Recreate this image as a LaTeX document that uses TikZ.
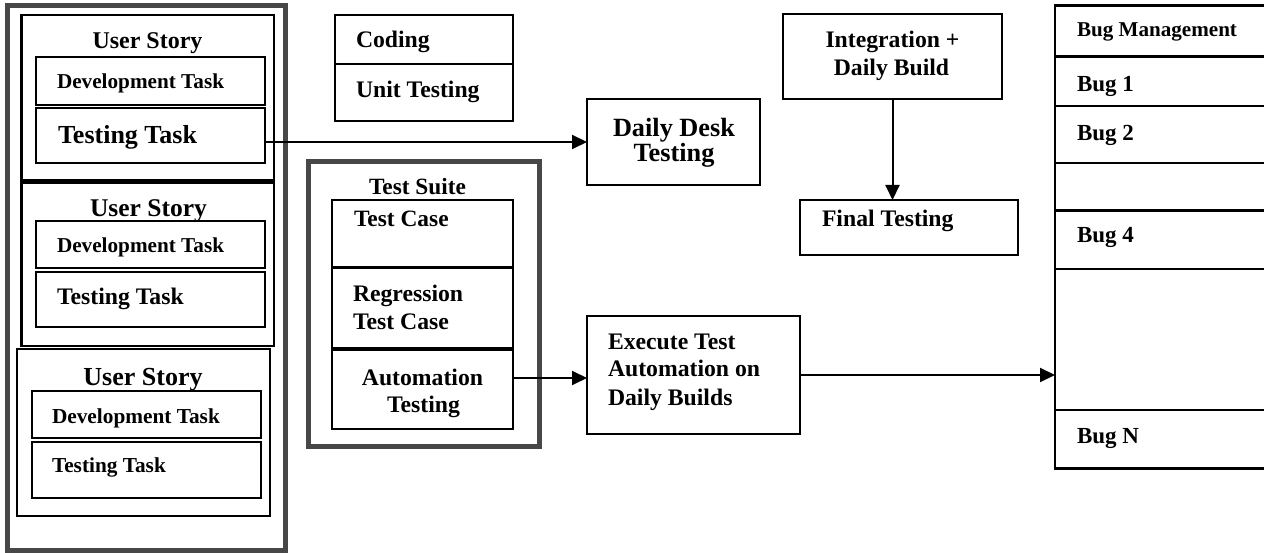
\documentclass[tikz,border=0pt]{standalone}
\usepackage{fontspec}
\setmainfont{Liberation Serif}
\usetikzlibrary{arrows.meta}

\tikzset{
  box/.style={draw=black, line width=2.2pt, rectangle, inner sep=0pt, outer sep=0pt, anchor=north west},
  frame/.style={draw=black!72, line width=5pt, rectangle, inner sep=0pt, outer sep=0pt, anchor=north west},
  arr/.style={line width=2pt, -{Triangle[length=15pt,width=14pt]}},
  t/.style={inner sep=0pt, outer sep=0pt, font=\bfseries\fontsize{#1}{#1}\selectfont},
  t/.default=23.7,
}

% \bx[style]{name}{x1}{y1}{x2}{y2}: box with top-left corner (x1,y1)
\newcommand\bx[6][box]{%
  \node[#1, minimum width={#5pt-#3pt}, minimum height={#6pt-#4pt}] (#2) at (#3,#4) {};}

\begin{document}
\begin{tikzpicture}[x=1pt, y=-1pt]
\useasboundingbox (0,0) rectangle (1264,553);
\clip (0,0) rectangle (1264,553);

% ---- user stories ----
\bx[frame]{stories}{7.5}{6}{285.5}{550.5}
\bx{us1}{21.5}{15}{274}{180.5}
\bx{dev1}{36}{57}{265}{105}
\bx{tt1}{36}{108}{265}{163}
\bx{us2}{21.5}{182.5}{274}{346}
\bx{dev2}{36}{221}{265}{268}
\bx{tt2}{36}{272}{265}{327}
\bx{us3}{17}{349}{270}{516}
\bx{dev3}{32}{391}{261}{438}
\bx{tt3}{32}{442}{261}{498}

\node[t=24, anchor=base] (us1t) at (147.5,49) {User Story};
\node[t=21.2, anchor=base west] (dev1t) at (57,89) {Development Task};
\node[t=26, anchor=base west] (tt1t) at (58,144) {Testing Task};
\node[t=25.5, anchor=base] (us2t) at (148.5,217) {User Story};
\node[t=21.2, anchor=base west] (dev2t) at (57,253) {Development Task};
\node[t, anchor=base west] (tt2t) at (57,305) {Testing Task};
\node[t=26, anchor=base] (us3t) at (143,385) {User Story};
\node[t=21.3, anchor=base west] (dev3t) at (52,423) {Development Task};
\node[t=21.3, anchor=base west] (tt3t) at (52,472) {Testing Task};

% ---- coding ----
\bx{coding}{335}{15}{513}{64}
\bx{unit}{335}{64}{513}{121}
\node[t, anchor=base west] (codingt) at (356,48) {Coding};
\node[t, anchor=base west] (unitt) at (356,98) {Unit Testing};

% ---- test suite ----
\bx[frame]{suite}{308.5}{161.5}{539.5}{446}
\bx{tcase}{332}{200}{513}{267}
\bx{regr}{332}{268}{513}{348}
\bx{auto}{332}{350}{513}{429}
\node[t=23.3, anchor=base] (suitet) at (417.5,195) {Test Suite};
\node[t=23.4, anchor=base west] (tcaset) at (354,227) {Test Case};
\node[t, anchor=base west] (regrt1) at (353,302) {Regression};
\node[t, anchor=base west] (regrt2) at (353,330) {Test Case};
\node[t, anchor=base] (autot1) at (422.5,385) {Automation};
\node[t, anchor=base] (autot2) at (423.5,412) {Testing};

% ---- testing activities ----
\bx{desk}{587}{99}{760}{185}
\node[t=26.3, anchor=base] (deskt1) at (674,137) {Daily Desk};
\node[t=26.3, anchor=base] (deskt2) at (674,162) {Testing};

\bx{integ}{783}{14}{1002}{99}
\node[t, anchor=base] (integt1) at (892.5,48) {Integration +};
\node[t, anchor=base] (integt2) at (891.5,76) {Daily Build};

\bx{final}{800}{200}{1018}{255}
\node[t, anchor=base west] (finalt) at (822,227) {Final Testing};

\bx{exec}{587}{316}{800}{434}
\node[t, anchor=base west] (exect1) at (608,349) {Execute Test};
\node[t, anchor=base west] (exect2) at (608,377) {Automation on};
\node[t, anchor=base west] (exect3) at (608,405) {Daily Builds};

% ---- bug management table ----
\bx{bugs}{1055}{5.5}{1272}{56.5}
\bx{bug1}{1055}{56.5}{1272}{105.8}
\bx{bug2}{1055}{105.8}{1272}{163.3}
\bx{bug3}{1055}{163.3}{1272}{210.6}
\bx{bug4}{1055}{210.6}{1272}{269.1}
\bx{bug5}{1055}{269.1}{1272}{409.9}
\bx{bugn}{1055}{409.9}{1272}{468.4}
\node[t=21.1, anchor=base west] (bugst) at (1077,37) {Bug Management};
\node[t=23, anchor=base west] (bug1t) at (1077,91.7) {Bug 1};
\node[t=23, anchor=base west] (bug2t) at (1077,141) {Bug 2};
\node[t=23, anchor=base west] (bug4t) at (1077,243) {Bug 4};
\node[t=23, anchor=base west] (bugnt) at (1077,443) {Bug N};

% ---- connectors ----
\draw[arr] (tt1.east |- desk.west) -- (desk.west);
\draw[arr] ([yshift=-3pt]auto.east |- exec.west) -- ([yshift=-3pt]exec.west);
\draw[arr] (exec.east) -- (exec.east -| bug5.west);
\draw[arr] (integ.south) -- (integ.south |- final.north);
\end{tikzpicture}
\end{document}
